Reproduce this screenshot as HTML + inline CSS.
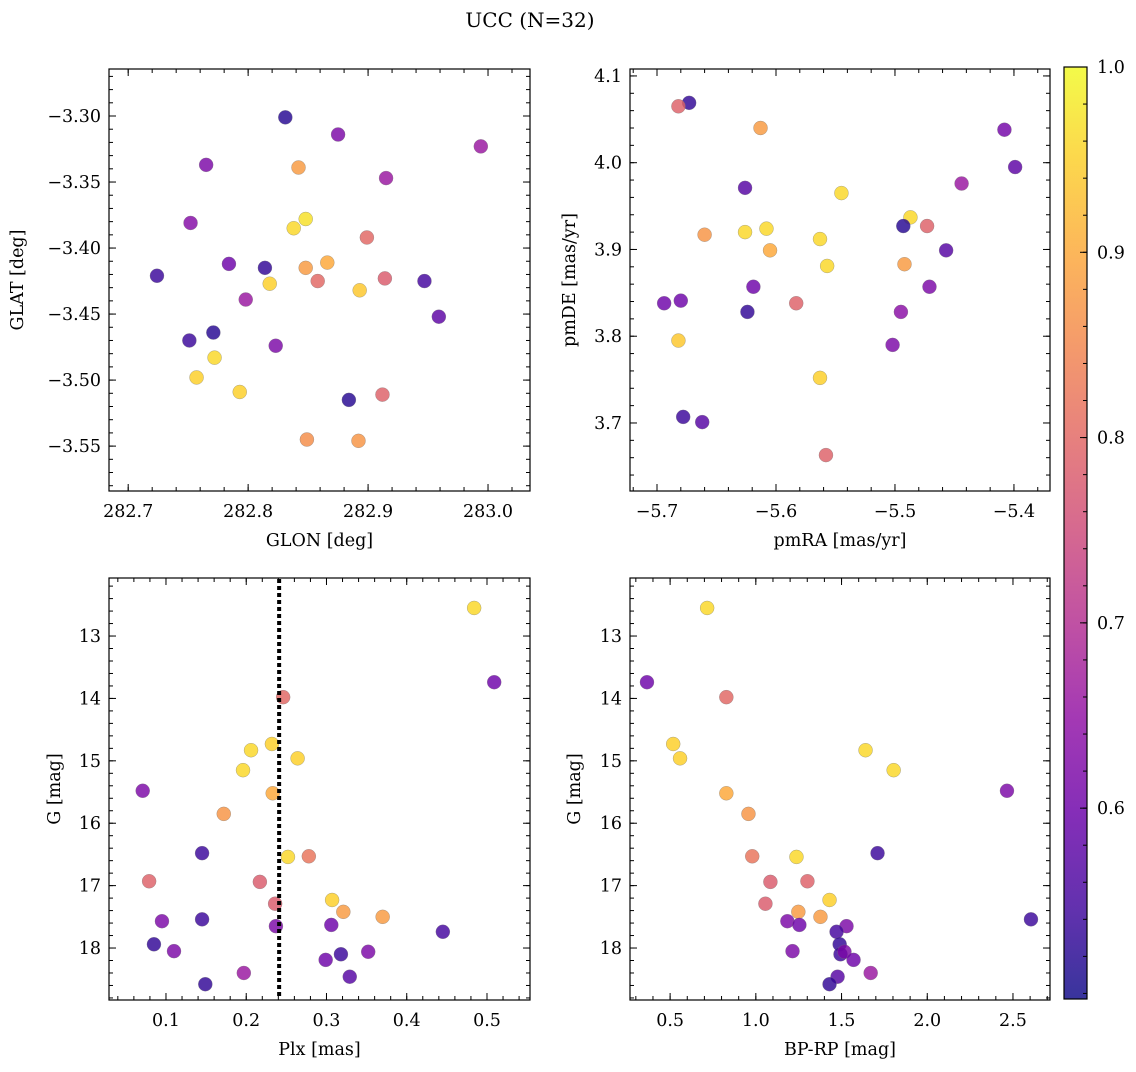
<!DOCTYPE html>
<html><head><meta charset="utf-8">
<style>
html,body{margin:0;padding:0;background:#fff;}
svg text{font-family:"DejaVu Serif","Liberation Serif",serif;fill:#000;}
</style></head>
<body>
<svg id="fig" width="1136" height="1067" xmlns="http://www.w3.org/2000/svg">
<text x="530" y="27" font-size="20" text-anchor="middle">UCC (N=32)</text>
<defs>
<linearGradient id="cbg" x1="0" y1="1" x2="0" y2="0">
<stop offset="0" stop-color="#0d0887"/><stop offset="0.1" stop-color="#41049d"/><stop offset="0.2" stop-color="#6a00a8"/><stop offset="0.3" stop-color="#8f0da4"/><stop offset="0.4" stop-color="#b12a90"/><stop offset="0.5" stop-color="#cc4778"/><stop offset="0.6" stop-color="#e16462"/><stop offset="0.7" stop-color="#f2844b"/><stop offset="0.8" stop-color="#fca636"/><stop offset="0.9" stop-color="#fcce25"/><stop offset="1" stop-color="#f0f921"/>
</linearGradient>
</defs>
</svg>
<script>
// Panel 1 data
const glon=[282.831,282.875,282.994,282.765,282.842,282.915,282.752,282.848,282.838,282.899,282.724,282.784,282.814,282.848,282.866,282.818,282.858,282.914,282.947,282.798,282.893,282.959,282.751,282.771,282.823,282.772,282.757,282.793,282.884,282.912,282.849,282.892];
const glat=[-3.301,-3.314,-3.323,-3.337,-3.339,-3.347,-3.381,-3.378,-3.385,-3.392,-3.421,-3.412,-3.415,-3.415,-3.411,-3.427,-3.425,-3.423,-3.425,-3.439,-3.432,-3.452,-3.470,-3.464,-3.474,-3.483,-3.498,-3.509,-3.515,-3.511,-3.545,-3.546];
const prob1=[0.52,0.62,0.66,0.62,0.88,0.66,0.63,0.97,0.96,0.80,0.54,0.60,0.53,0.88,0.90,0.95,0.80,0.78,0.55,0.66,0.94,0.58,0.54,0.52,0.62,0.96,0.95,0.95,0.52,0.79,0.86,0.87];
// Panel 2 data
const pmra=[-5.673,-5.682,-5.613,-5.408,-5.399,-5.444,-5.626,-5.545,-5.487,-5.608,-5.626,-5.493,-5.473,-5.660,-5.563,-5.605,-5.457,-5.557,-5.492,-5.619,-5.471,-5.694,-5.680,-5.583,-5.624,-5.495,-5.682,-5.502,-5.563,-5.678,-5.662,-5.558];
const pmde=[4.069,4.065,4.040,4.038,3.995,3.976,3.971,3.965,3.937,3.924,3.920,3.927,3.927,3.917,3.912,3.899,3.899,3.881,3.883,3.857,3.857,3.838,3.841,3.838,3.828,3.828,3.795,3.790,3.752,3.707,3.701,3.663];
const prob2=[0.53,0.79,0.88,0.61,0.58,0.66,0.57,0.96,0.96,0.96,0.96,0.52,0.79,0.87,0.96,0.90,0.57,0.96,0.88,0.60,0.62,0.60,0.60,0.79,0.53,0.64,0.94,0.62,0.95,0.54,0.57,0.79];
// Panels 3 & 4 data
const plx=[0.484,0.509,0.246,0.206,0.232,0.264,0.196,0.233,0.071,0.172,0.145,0.252,0.278,0.079,0.217,0.307,0.236,0.321,0.370,0.095,0.145,0.237,0.306,0.445,0.085,0.110,0.318,0.352,0.299,0.197,0.329,0.149];
const gmag=[12.55,13.74,13.98,14.83,14.73,14.96,15.15,15.52,15.48,15.85,16.48,16.54,16.53,16.93,16.94,17.23,17.29,17.42,17.50,17.57,17.54,17.65,17.63,17.74,17.94,18.05,18.10,18.06,18.19,18.40,18.46,18.58];
const bprp=[0.716,0.365,0.828,1.640,0.518,0.558,1.804,0.828,2.465,0.957,1.710,1.237,0.979,1.301,1.085,1.430,1.056,1.248,1.377,1.184,2.605,1.529,1.254,1.471,1.489,1.214,1.494,1.517,1.570,1.670,1.477,1.430];
const prob3=[0.96,0.60,0.80,0.96,0.95,0.95,0.96,0.90,0.62,0.87,0.54,0.96,0.82,0.79,0.78,0.95,0.78,0.88,0.88,0.62,0.54,0.62,0.60,0.55,0.53,0.62,0.54,0.62,0.60,0.66,0.57,0.53];
const plxCut=0.241;
const cbTicks=[0.6,0.7,0.8,0.9,1.0];
const vmin=0.497, vmax=1.0;

const NS="http://www.w3.org/2000/svg";
const svg=document.getElementById('fig');
const FS=17.5;
function mk(tag,attrs,parent){const e=document.createElementNS(NS,tag);for(const k in attrs)e.setAttribute(k,attrs[k]);(parent||svg).appendChild(e);return e;}
const stops=[[13,8,135],[65,4,157],[106,0,168],[143,13,164],[177,42,144],[204,71,120],[225,100,98],[242,132,75],[252,166,54],[252,206,37],[240,249,33]];
function plasma(v){let t=(v-vmin)/(vmax-vmin);t=Math.max(0,Math.min(1,t))*10;const i=Math.min(9,Math.floor(t)),f=t-i;const a=stops[i],b=stops[i+1];return 'rgb('+a.map((c,k)=>Math.round(c+(b[k]-c)*f)).join(',')+')';}
function fmt(v,d){let s=v.toFixed(d);s=s.replace('-','\u2212');return s;}

function panel(name,L,T,W,H,xmin,xmax,ymin,ymax,invY,xs,ys,ps,xMaj,xMin,yMaj,yMin,xd,yd,xlabel,ylabel,ylx){
  const g=mk('g',{});
  
  
  const X=v=>L+(v-xmin)/(xmax-xmin)*W;
  const Y=v=>invY? T+(v-ymin)/(ymax-ymin)*H : T+H-(v-ymin)/(ymax-ymin)*H;
  const e=1e-9;
  const tk=(step,len,isX,labels,d)=>{
    const lo=isX?xmin:Math.min(ymin,ymax), hi=isX?xmax:Math.max(ymin,ymax);
    for(let k=Math.ceil(lo/step-e);k*step<=hi+e;k++){
      const v=k*step;
      if(isX){const x=X(v);mk('line',{x1:x,x2:x,y1:T+H,y2:T+H-len,stroke:'#000','stroke-width':1},g);mk('line',{x1:x,x2:x,y1:T,y2:T+len,stroke:'#000','stroke-width':1},g);
        if(labels){const t=mk('text',{x:x,y:T+H+26,'font-size':FS,'text-anchor':'middle'},g);t.textContent=fmt(v,d);}}
      else{const y=Y(v);mk('line',{x1:L,x2:L+len,y1:y,y2:y,stroke:'#000','stroke-width':1},g);mk('line',{x1:L+W,x2:L+W-len,y1:y,y2:y,stroke:'#000','stroke-width':1},g);
        if(labels){const t=mk('text',{x:L-8,y:y+6,'font-size':FS,'text-anchor':'end'},g);t.textContent=fmt(v,d);}}
    }
  };
  tk(xMin,4,true,false);tk(xMaj,7,true,true,xd);
  tk(yMin,4,false,false);tk(yMaj,7,false,true,yd);
  const clipId='c'+name;
  const cp=mk('clipPath',{id:clipId},g);mk('rect',{x:L,y:T,width:W,height:H},cp);
  const pts=mk('g',{'clip-path':'url(#'+clipId+')'},g);
  for(let i=0;i<xs.length;i++){
    const c=mk('circle',{cx:X(xs[i]),cy:Y(ys[i]),r:7,fill:plasma(ps[i]),'fill-opacity':0.82,stroke:'#777','stroke-width':0.5,'stroke-opacity':0.6},pts);
    
    
  }
  mk('rect',{x:L,y:T,width:W,height:H,fill:'none',stroke:'#000','stroke-width':1.2},g);
  const xl=mk('text',{x:L+W/2,y:T+H+55,'font-size':FS,'text-anchor':'middle'},g);xl.textContent=xlabel;
  
  const yl=mk('text',{x:0,y:0,'font-size':FS,'text-anchor':'middle',transform:'translate('+ylx+','+(T+H/2)+') rotate(-90)'},g);yl.textContent=ylabel;
  
  return {X,Y,g};
}
panel('panel-1-glon-glat',109,69,421,422,282.684,283.035,-3.584,-3.2644,false,glon,glat,prob1,0.1,0.02,0.05,0.01,1,2,'GLON [deg]','GLAT [deg]',23);
panel('panel-2-pm',630,69,420,422,-5.7227,-5.3697,3.6216,4.108,false,pmra,pmde,prob2,0.1,0.02,0.1,0.02,1,1,'pmRA [mas/yr]','pmDE [mas/yr]',575);
const p3=panel('panel-3-plx-g',109,578,421,422,0.029,0.5536,12.07,18.833,true,plx,gmag,prob3,0.1,0.02,1,0.2,1,0,'Plx [mas]','G [mag]',60);
panel('panel-4-cmd',630,578,420,422,0.266,2.716,12.07,18.833,true,bprp,gmag,prob3,0.5,0.1,1,0.2,1,0,'BP-RP [mag]','G [mag]',580);
const cut=mk('line',{x1:p3.X(plxCut),x2:p3.X(plxCut),y1:579,y2:999,stroke:'#000','stroke-width':4,'stroke-dasharray':'4,3'});


// colorbar
const cbT=67,cbB=999,cbL=1064,cbW=23;
const cb=mk('g',{});


mk('rect',{x:cbL,y:cbT,width:cbW,height:cbB-cbT,fill:'url(#cbg)','fill-opacity':0.82},cb);
const CY=v=>cbB-(v-vmin)/(vmax-vmin)*(cbB-cbT);
for(let k=25;k<=50;k++){const v=k*0.02;const y=CY(v);mk('line',{x1:cbL+cbW,x2:cbL+cbW-4,y1:y,y2:y,stroke:'#000','stroke-width':1},cb);}
for(const v of cbTicks){const y=CY(v);mk('line',{x1:cbL+cbW,x2:cbL+cbW-7,y1:y,y2:y,stroke:'#000','stroke-width':1},cb);
  const t=mk('text',{x:1097,y:y+6,'font-size':FS},cb);t.textContent=v.toFixed(1);
  
  }
mk('rect',{x:cbL,y:cbT,width:cbW,height:cbB-cbT,fill:'none',stroke:'#000','stroke-width':1.2},cb);
</script>
</body></html>
